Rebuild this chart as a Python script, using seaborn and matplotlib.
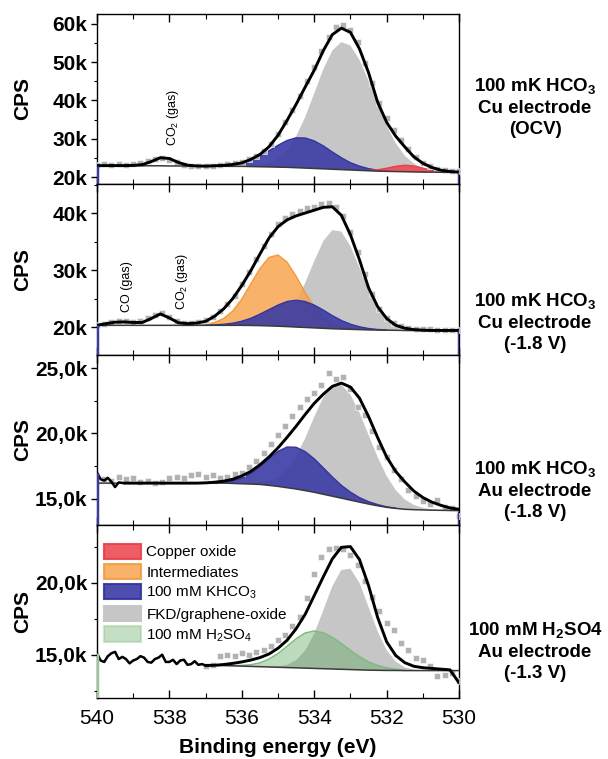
import numpy as np
import matplotlib
matplotlib.use("Agg")
import matplotlib.pyplot as plt
from matplotlib.patches import Patch
from matplotlib.ticker import FuncFormatter, MultipleLocator
import seaborn as sns

nan = np.nan

# energy axes (eV)
E_fit = np.linspace(540, 530, 41)   # fitted curves, 0.25 eV steps
E_pts = np.linspace(540, 530, 51)   # measured points, 0.2 eV steps

# ---------------- panel 1 : 100 mK HCO3 / Cu / OCV  (kCPS)
p1_points = [23.2, 23.3, 23.1, 23.3, 23.2, 23.4, 23.6, 24.1, 24.6, 24.9, 24.5, 23.9, 23.2, 23.0, 22.9, 23.0, 22.9,
             23.1, 23.3, 23.6, 24.0, 24.6, 25.6, 26.9, 28.7, 31.2, 34.3, 37.6, 41.2, 45.0, 48.8, 53.0, 56.7, 59.3,
             59.6, 58.3, 55.2, 49.8, 44.5, 39.4, 35.3, 32.2, 29.6, 27.3, 25.3, 23.8, 22.8, 22.1, 21.8, 21.6, 21.5]
p1_envelope = [23.0, 23.0, 23.0, 23.0, 23.05, 23.25, 24.05, 25.05, 24.85, 23.8, 23.1, 22.9, 22.85, 22.95, 23.05,
               23.3, 23.7, 24.6, 25.9, 27.9, 30.9, 34.8, 39.0, 43.5, 47.9, 53.0, 57.2, 58.9, 57.8, 53.5, 47.3, 39.6,
               34.3, 30.7, 27.9, 25.3, 23.6, 22.5, 21.8, 21.45, 21.3]
p1_background = [23.0, 23.0, 23.0, 23.0, 23.0, 22.95, 22.95, 22.95, 22.9, 22.9, 22.9, 22.9, 22.85, 22.85, 22.85,
                 22.8, 22.8, 22.75, 22.7, 22.65, 22.6, 22.55, 22.45, 22.35, 22.25, 22.15, 22.05, 21.95, 21.85, 21.75,
                 21.65, 21.55, 21.5, 21.45, 21.4, 21.35, 21.3, 21.3, 21.25, 21.25, 21.25]
p1_fkd = [0, 0, 0, 0, 0, 0, 0, 0, 0, 0, 0, 0, 0, 0, 0, 0, 0.05, 0.15, 0.4, 1.0, 2.25, 4.5, 8.2, 13.3, 19.6, 26.0,
          31.0, 33.3, 32.5, 28.9, 23.5, 17.5, 11.9, 7.4, 4.2, 2.2, 1.05, 0.46, 0.18, 0.07, 0.02]
p1_khco3 = [0, 0, 0, 0, 0, 0, 0, 0, 0, 0, 0, 0, 0, 0.1, 0.2, 0.5, 0.9, 1.7, 2.8, 4.2, 5.7, 7.0, 7.8, 7.85, 7.2, 6.0,
            4.5, 3.1, 1.9, 1.1, 0.55, 0.25, 0.1, 0, 0, 0, 0, 0, 0, 0, 0]
p1_cuox = [0, 0, 0, 0, 0, 0, 0, 0, 0, 0, 0, 0, 0, 0, 0, 0, 0, 0, 0, 0, 0, 0, 0, 0, 0, 0, 0, 0, 0, 0, 0.1, 0.35, 0.8,
           1.36, 1.7, 1.54, 1.03, 0.5, 0.18, 0.05, 0]

# ---------------- panel 2 : 100 mK HCO3 / Cu / -1.8 V
p2_points = [20.4, 20.6, 20.9, 21.1, 21.0, 20.9, 21.0, 21.6, 22.2, 22.4, 21.8, 21.0, 20.7, 20.7, 20.9, 21.2, 21.8,
             22.8, 24.0, 25.5, 27.5, 29.6, 31.9, 34.3, 36.3, 38.0, 39.2, 39.9, 40.4, 40.8, 41.1, 41.6, 41.7, 41.0,
             39.4, 36.6, 33.2, 29.3, 25.8, 23.2, 21.6, 20.7, 20.2, 19.9, 19.7, 19.6, 19.6, 19.5, 19.5, 19.5, 19.5]
p2_envelope = [20.3, 20.6, 20.85, 20.9, 20.8, 20.8, 21.5, 22.3, 21.6, 20.75, 20.6, 20.7, 21.0, 21.9, 23.2, 25.0,
               27.3, 29.9, 32.8, 35.6, 37.6, 38.8, 39.5, 40.0, 40.5, 41.0, 41.1, 39.6, 36.2, 31.8, 26.9, 23.6, 21.5,
               20.3, 19.8, 19.55, 19.45, 19.4, 19.4, 19.4, 19.4]
p2_background = [20.3, 20.3, 20.3, 20.3, 20.3, 20.3, 20.3, 20.3, 20.3, 20.3, 20.3, 20.3, 20.3, 20.3, 20.3, 20.3,
                 20.3, 20.28, 20.25, 20.2, 20.15, 20.08, 20.0, 19.93, 19.85, 19.78, 19.7, 19.65, 19.6, 19.55, 19.5,
                 19.47, 19.45, 19.43, 19.4, 19.4, 19.4, 19.4, 19.4, 19.4, 19.4]
p2_fkd = [0, 0, 0, 0, 0, 0, 0, 0, 0, 0, 0, 0, 0, 0, 0, 0, 0, 0, 0.13, 0.4, 1.0, 2.3, 4.6, 7.8, 11.7, 15.3, 17.3,
          17.1, 14.6, 10.9, 7.1, 4.0, 2.0, 0.85, 0.3, 0.1, 0.03, 0, 0, 0, 0]
p2_inter = [0, 0, 0, 0, 0, 0, 0, 0, 0, 0, 0.02, 0.06, 0.18, 0.5, 1.2, 2.5, 4.6, 7.3, 10.0, 12.0, 12.5, 11.3, 8.9,
            6.1, 3.7, 1.9, 0.9, 0.34, 0.12, 0.03, 0, 0, 0, 0, 0, 0, 0, 0, 0, 0, 0]
p2_khco3 = [0, 0, 0, 0, 0, 0, 0, 0, 0, 0, 0, 0, 0.03, 0.08, 0.18, 0.37, 0.72, 1.25, 2.0, 2.85, 3.7, 4.4, 4.7, 4.55,
            4.0, 3.2, 2.3, 1.5, 0.9, 0.5, 0.24, 0.1, 0.04, 0, 0, 0, 0, 0, 0, 0, 0]

# ---------------- panel 3 : 100 mK HCO3 / Au / -1.8 V
p3_points = [nan, 16.5, 16.4, 16.7, 16.5, 16.6, 16.3, 16.4, 16.2, 16.3, 16.6, 16.7, 16.6, 16.8, 16.9, 16.7, 16.8,
             16.6, 16.7, 16.9, 17.0, 17.4, 17.9, 18.5, 19.2, 19.9, 20.6, 21.3, 22.0, 22.6, 23.1, 23.7, 24.6, 24.2,
             24.3, 23.4, 22.0, 21.4, 20.2, 19.0, 18.2, 17.2, 16.5, 15.7, 15.2, 14.8, 14.6, 14.9, 14.4, 14.3, 13.7]
p3_envelope = [nan, nan, nan, 16.2, 16.2, 16.2, 16.2, 16.2, 16.2, 16.2, 16.2, 16.2, 16.22, 16.27, 16.35, 16.5,
               16.75, 17.1, 17.6, 18.2, 18.9, 19.7, 20.55, 21.45, 22.3, 23.0, 23.6, 23.85, 23.55, 22.7, 21.3, 19.7,
               18.2, 17.1, 16.3, 15.6, 15.1, 14.75, 14.5, 14.3, 14.2]
p3_background = [16.2, 16.2, 16.2, 16.2, 16.2, 16.2, 16.2, 16.2, 16.2, 16.2, 16.2, 16.2, 16.2, 16.2, 16.2, 16.18,
                 16.15, 16.13, 16.1, 16.03, 15.95, 15.85, 15.75, 15.63, 15.5, 15.35, 15.2, 15.05, 14.9, 14.75, 14.6,
                 14.47, 14.35, 14.27, 14.2, 14.17, 14.15, 14.13, 14.12, 14.11, 14.1]
p3_fkd = [0, 0, 0, 0, 0, 0, 0, 0, 0, 0, 0, 0, 0, 0, 0, 0, 0.01, 0.04, 0.13, 0.31, 0.7, 1.4, 2.5, 4.0, 5.76, 7.4,
          8.45, 8.67, 8.06, 6.84, 5.29, 3.73, 2.4, 1.4, 0.75, 0.37, 0.16, 0.07, 0.03, 0.01, 0]
p3_khco3 = [0, 0, 0, 0, 0, 0, 0, 0, 0, 0, 0, 0, 0.01, 0.03, 0.08, 0.2, 0.43, 0.81, 1.37, 2.04, 2.68, 3.11, 3.19,
            2.98, 2.56, 2.02, 1.47, 0.98, 0.61, 0.34, 0.18, 0.09, 0.04, 0.02, 0, 0, 0, 0, 0, 0, 0]
p3_trace_E = [540.0, 539.9, 539.8, 539.7, 539.6, 539.5, 539.4, 539.25]
p3_trace = [17.0, 16.5, 16.4, 16.6, 16.3, 15.9, 16.25, 16.2]

# ---------------- panel 4 : 100 mM H2SO4 / Au / -1.3 V
p4_points = [nan, nan, nan, nan, nan, nan, nan, nan, nan, nan, nan, nan, nan, nan, nan,
             14.2, 14.3, 14.9, 15.0, 14.9, 15.1, 15.0, 15.2, 15.3, 15.6, 16.0, 16.4, 17.0, 17.6, 18.9, 20.6, 21.8,
             22.3, 22.4, 22.3, 21.9, 21.2, 20.1, 19.0, 18.0, 17.2, 16.7, 15.8, 15.3, 14.8, 14.6, 14.2, 13.5, 13.6,
             13.7, 13.2]
p4_envelope = [nan, nan, nan, nan, nan, nan, nan, nan, nan, nan, nan, nan,
               14.25, 14.27, 14.32, 14.4, 14.5, 14.63, 14.8, 15.05, 15.45, 16.0, 16.8, 17.8, 19.1, 20.4, 21.65,
               22.45, 22.5, 21.6, 19.8, 17.6, 15.9, 14.95, 14.45, 14.2, 14.1, 14.05, 14.0, 13.95, 13.05]
p4_background = [nan, nan, nan, nan, nan, nan, nan, nan, nan, nan, nan, nan,
                 14.27, 14.26, 14.25, 14.23, 14.21, 14.19, 14.17, 14.15, 14.13, 14.11, 14.09, 14.07, 14.05, 14.03,
                 14.01, 13.99, 13.97, 13.95, 13.93, 13.92, 13.91, 13.91, 13.9, 13.9, 13.9, 13.9, 13.9, 13.9, 13.9]
p4_fkd = [0, 0, 0, 0, 0, 0, 0, 0, 0, 0, 0, 0, 0, 0, 0, 0, 0, 0, 0, 0.015, 0.06, 0.19, 0.52, 1.22, 2.41, 4.04, 5.74,
          6.89, 7.0, 6.03, 4.39, 2.71, 1.41, 0.62, 0.23, 0.07, 0.02, 0, 0, 0, 0]
p4_h2so4 = [0, 0, 0, 0, 0, 0, 0, 0, 0, 0, 0, 0, 0, 0, 0.005, 0.016, 0.05, 0.12, 0.27, 0.55, 0.96, 1.48, 2.02, 2.44,
            2.6, 2.49, 2.2, 1.79, 1.33, 0.92, 0.58, 0.34, 0.18, 0.09, 0.04, 0, 0, 0, 0, 0, 0]
p4_trace_E = np.linspace(540, 537, 31)
p4_trace = [15.1, 14.6, 14.5, 14.9, 15.1, 15.2, 14.7, 14.85, 14.7, 14.4, 14.6, 14.7, 14.9, 14.8, 14.5, 14.45, 14.7,
            14.8, 15.0, 14.5, 14.5, 14.65, 14.35, 14.6, 14.65, 14.3, 14.35, 14.55, 14.3, 14.35, 14.25]

panel_labels = ["100 mK HCO$_\\mathbf{3}$\nCu electrode\n(OCV)",
                "100 mK HCO$_\\mathbf{3}$\nCu electrode\n(-1.8 V)",
                "100 mK HCO$_\\mathbf{3}$\nAu electrode\n(-1.8 V)",
                "100 mM H$_\\mathbf{2}$SO4\nAu electrode\n(-1.3 V)"]
label_y = [0.859, 0.576, 0.354, 0.142]
legend_labels = ["Copper oxide", "Intermediates", "100 mM KHCO$_3$", "FKD/graphene-oxide", "100 mM H$_2$SO$_4$"]

# styles: face, alpha, edge
STYLE = {
    "cuox": ("#ec4b55", 0.9, "#e8404c"),
    "inter": ("#f7a54f", 0.85, "#f29a38"),
    "khco3": ("#3b3ba5", 0.9, "#3434a0"),
    "fkd": ("#c6c6c6", 1.0, "none"),
    "h2so4": ("#5aa55a", 0.4, "#7dbb7d"),
}

sns.set_style("ticks")
plt.rcParams["font.family"] = ["Liberation Sans", "DejaVu Sans"]
plt.rcParams["mathtext.fontset"] = "custom"
plt.rcParams["mathtext.rm"] = "Liberation Sans"
plt.rcParams["mathtext.it"] = "Liberation Sans:italic"
plt.rcParams["mathtext.bf"] = "Liberation Sans:bold"
for k in ["text.color", "axes.labelcolor", "xtick.color", "ytick.color", "axes.edgecolor"]:
    plt.rcParams[k] = "black"

fig = plt.figure(figsize=(6.08, 7.59), dpi=100)
gs = fig.add_gridspec(4, 1, left=0.1595, right=0.755, top=0.9816, bottom=0.0804, hspace=0,
                      height_ratios=[170, 171, 170, 173])
axes = [fig.add_subplot(gs[i]) for i in range(4)]

panels = [
    dict(pts=p1_points, env=p1_envelope, bg=p1_background,
         comps=[("fkd", p1_fkd), ("khco3", p1_khco3), ("cuox", p1_cuox)],
         ylim=(18.2, 62.6), major=10, minor=5, fmt="{:.0f}k", edge=STYLE["khco3"][0]),
    dict(pts=p2_points, env=p2_envelope, bg=p2_background,
         comps=[("fkd", p2_fkd), ("inter", p2_inter), ("khco3", p2_khco3)],
         ylim=(15.1, 45.1), major=10, minor=5, fmt="{:.0f}k", edge=STYLE["khco3"][0]),
    dict(pts=p3_points, env=p3_envelope, bg=p3_background,
         comps=[("fkd", p3_fkd), ("khco3", p3_khco3)],
         ylim=(13.0, 26.0), major=5, minor=2.5, fmt="{:.1f}k", edge=STYLE["khco3"][0],
         trace=(p3_trace_E, p3_trace)),
    dict(pts=p4_points, env=p4_envelope, bg=p4_background,
         comps=[("fkd", p4_fkd), ("h2so4", p4_h2so4)],
         ylim=(12.0, 24.0), major=5, minor=2.5, fmt="{:.1f}k", edge="#9cc49c",
         trace=(p4_trace_E, p4_trace)),
]

for i, (ax, p) in enumerate(zip(axes, panels)):
    bg = np.array(p["bg"], dtype=float)
    for z, (key, vals) in enumerate(p["comps"]):
        face, alpha, edge = STYLE[key]
        vals = np.array(vals)
        top = bg + vals
        ax.fill_between(E_fit, bg, top, where=vals > 0, interpolate=True,
                        facecolor=face, alpha=alpha, edgecolor="none", zorder=1 + z)
        if edge != "none":
            sns.lineplot(x=E_fit, y=np.where(vals > 0, top, np.nan), ax=ax, color=edge,
                         lw=1.0, estimator=None, sort=False, zorder=1.5 + z)
    sns.scatterplot(x=E_pts, y=p["pts"], ax=ax, marker="s", s=17, color="#b2b2b2",
                    edgecolor="white", linewidth=0.4, zorder=5)
    sns.lineplot(x=E_fit, y=bg, ax=ax, color="#3a3a3a", lw=1.1, estimator=None, sort=False, zorder=6)
    sns.lineplot(x=E_fit, y=p["env"], ax=ax, color="black", lw=2.1, estimator=None, sort=False, zorder=7)
    if "trace" in p:
        tx, ty = p["trace"]
        sns.lineplot(x=tx, y=ty, ax=ax, color="black", lw=1.8, estimator=None, sort=False, zorder=7)

    # coloured component edges at the frame below the baseline
    left_top = p["trace"][1][0] if "trace" in p else bg[0]
    ax.vlines(E_fit[0], p["ylim"][0], left_top, color=p["edge"], lw=2.5, zorder=8)
    if i < 3:
        ax.vlines(E_fit[-1], p["ylim"][0], bg[-1], color=p["edge"], lw=2.5, zorder=8)

    ax.set_xlim(540, 530)
    ax.set_ylim(*p["ylim"])
    ax.yaxis.set_major_locator(MultipleLocator(p["major"]))
    ax.yaxis.set_minor_locator(MultipleLocator(p["minor"]))
    fmt = p["fmt"]
    ax.yaxis.set_major_formatter(FuncFormatter(lambda v, _, f=fmt: f.format(v).replace(".", ",")))
    ax.xaxis.set_major_locator(MultipleLocator(2))
    ax.xaxis.set_minor_locator(MultipleLocator(1))
    ax.tick_params(axis="y", which="major", direction="out", length=4, width=1, pad=3,
                   labelsize=15)
    ax.tick_params(axis="y", which="minor", direction="out", length=2.5, width=0.8)
    ax.tick_params(axis="x", which="major", direction="in", length=6, width=1, top=True,
                   labelsize=15, pad=8)
    ax.tick_params(axis="x", which="minor", direction="in", length=3.5, width=0.8, top=True)
    for sp in ax.spines.values():
        sp.set_linewidth(1.0)
        sp.set_color("black")
    ax.set_ylabel("CPS", fontsize=15, fontweight="bold")
    ax.yaxis.set_label_coords(-0.178, 0.5)
    if i < 3:
        ax.tick_params(axis="x", labelbottom=False)
    ax.set_xlabel("")

    fig.text(0.88, label_y[i], panel_labels[i], ha="center", va="center",
             fontsize=13.5, fontweight="bold", linespacing=1.3)

for ax in axes:
    for lab in ax.get_yticklabels():
        lab.set_fontweight("bold")

axes[3].set_xlabel("Binding energy (eV)", fontsize=15, fontweight="bold", labelpad=7)

# gas-phase annotations
axes[0].text(537.9, 28.1, "CO$_2$ (gas)", rotation=90, ha="center", va="bottom", fontsize=9)
axes[1].text(539.17, 22.6, "CO (gas)", rotation=90, ha="center", va="bottom", fontsize=9)
axes[1].text(537.65, 23.0, "CO$_2$ (gas)", rotation=90, ha="center", va="bottom", fontsize=9)

handles = []
for key in ["cuox", "inter", "khco3", "fkd", "h2so4"]:
    face, alpha, edge = STYLE[key]
    handles.append(Patch(facecolor=face, alpha=alpha if key != "h2so4" else 0.35,
                         edgecolor=edge if edge != "none" else face, linewidth=1.5))
axes[3].legend(handles, legend_labels, loc="upper left", bbox_to_anchor=(-0.005, 0.945), frameon=False,
               fontsize=11, handlelength=2.4, handleheight=1.15, labelspacing=0.3, handletextpad=0.35,
               borderaxespad=0.3, borderpad=0.3)

fig.savefig("out.png", dpi=100)
